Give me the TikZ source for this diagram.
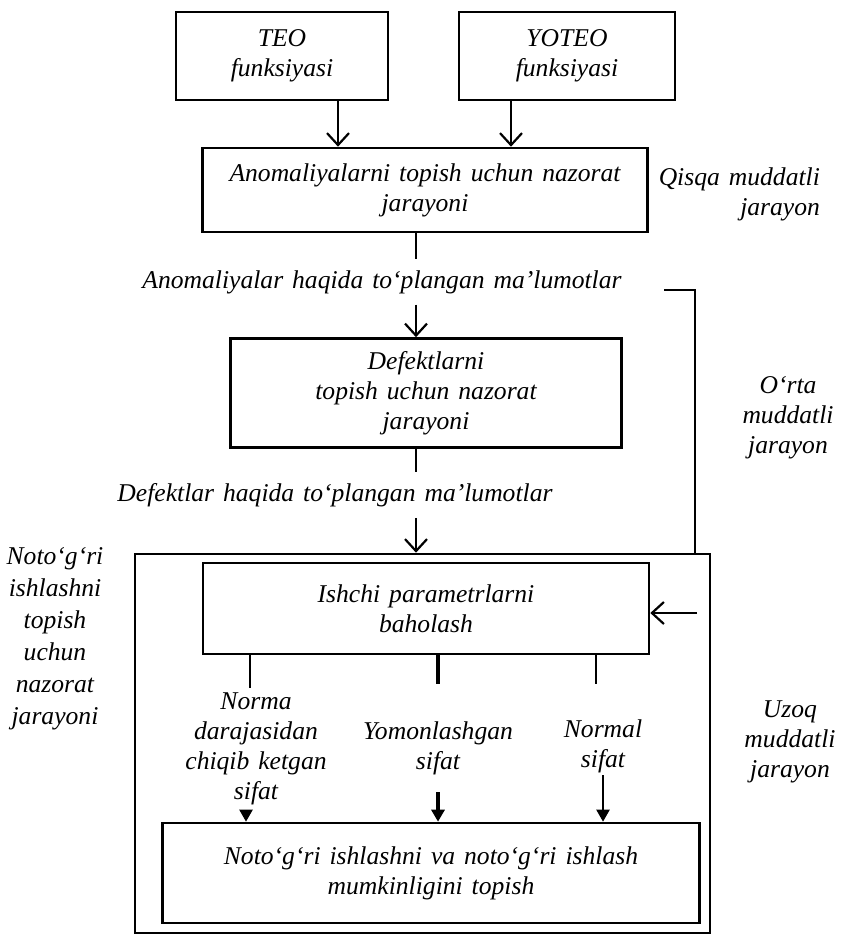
\documentclass[tikz,border=0pt]{standalone}
\usepackage{fontspec}
\setmainfont[WordSpace=1.4]{Liberation Serif}
\usetikzlibrary{arrows.meta}

\begin{document}
\begin{tikzpicture}[
  x=0.5pt, y=-0.5pt,
  line width=1.1pt,
  >={Straight Barb[length=6pt,width=11pt]},
  every node/.style={font=\fontsize{12.8}{15}\selectfont\itshape},
  procbox/.style={draw, line width=1.3pt, align=center, inner sep=2pt},
  sidelbl/.style={align=center, inner sep=2pt},
  midlbl/.style={align=center, inner xsep=2pt, inner ysep=5pt},
  flow/.style={->},
  hit/.style={-{Triangle[length=6pt,width=6.5pt]}}
]
\useasboundingbox (0,0) rectangle (846,936);

%--- Explicit node placement ---
\node[procbox, minimum width=106pt, minimum height=44pt]   (teo)    at (282,56)  {TEO\\funksiyasi};
\node[procbox, minimum width=108pt, minimum height=44pt]   (yoteo)  at (567,56)  {YOTEO\\funksiyasi};
\node[procbox, minimum width=222.5pt, minimum height=42pt] (anom)   at (425,190) {Anomaliyalarni topish uchun nazorat\\jarayoni};
\node[midlbl]                                              (anomlbl) at (382,282) {Anomaliyalar haqida to‘plangan ma’lumotlar};
\node[procbox, minimum width=195.5pt, minimum height=54.5pt] (defekt) at (426,393) {Defektlarni\\topish uchun nazorat\\jarayoni};
\node[midlbl]                                              (defektlbl) at (335,495) {Defektlar haqida to‘plangan ma’lumotlar};

\node[procbox, minimum width=287.5pt, minimum height=189.5pt] (outer) at (422.5,743.5) {};
\node[procbox, minimum width=223pt, minimum height=45.5pt] (ishchi) at (426,608.5) {Ishchi parametrlarni\\baholash};
\node[procbox, minimum width=268.5pt, minimum height=50pt] (topish) at (431,873) {Noto‘g‘ri ishlashni va noto‘g‘ri ishlash\\mumkinligini topish};

\node[sidelbl]   (normalbl)  at (256,749) {Norma\\darajasidan\\chiqib ketgan\\sifat};
\node[sidelbl]   (yomonlbl)  at (438,748) {Yomonlashgan\\sifat};
\node[sidelbl]   (normallbl) at (603,746) {Normal\\sifat};

%--- Side captions ---
\node[sidelbl, align=right, anchor=east] (qisqa) at (825,194) {Qisqa muddatli\\jarayon};
\node[sidelbl]   (orta)  at (788,418) {O‘rta\\muddatli\\jarayon};
\node[sidelbl]   (uzoq)  at (790,742) {Uzoq\\muddatli\\jarayon};
\node[sidelbl, font=\fontsize{12.8}{16}\selectfont\itshape] (notolbl) at (55,639)
  {Noto‘g‘ri\\ishlashni\\topish\\uchun\\nazorat\\jarayoni};

%--- Free ends ---
\coordinate (brk)   at (664,290);
\coordinate (fback) at (697,613);
\coordinate (yline) at (438,684);
\coordinate (nline) at (596,684);
\coordinate (yarr)  at (438,792);
\coordinate (narr)  at (603,775);

%--- Main chain ---
\draw[flow] (teo.south -| 338,0)   -- (anom.north -| 338,0);
\draw[flow] (yoteo.south -| 511,0) -- (anom.north -| 511,0);
\draw       (anom.south -| 416,0)  -- (anomlbl.north -| 416,0);
\draw[flow] (anomlbl.south -| 416,0) -- (defekt.north -| 416,0);
\draw       (defekt.south -| 416,0)  -- (defektlbl.north -| 416,0);
\draw[flow] (defektlbl.south -| 416,0) -- (outer.north -| 416,0);

%--- Bracket and feedback ---
\draw       (brk) -| (outer.north -| 695,0);
\draw[flow] (fback) -- (ishchi.east |- fback);

%--- Quality branches ---
\draw (ishchi.south -| 250,0) -- (normalbl.north -| 250,0);
\draw[line width=1.7pt] (ishchi.south -| yline) -- (yline);
\draw (ishchi.south -| nline) -- (nline);
\draw[hit] (normalbl.south -| 246,0) -- (topish.north -| 246,0);
\draw[hit, line width=1.7pt] (yarr) -- (topish.north -| yarr);
\draw[hit] (narr) -- (topish.north -| narr);

\end{tikzpicture}
\end{document}
